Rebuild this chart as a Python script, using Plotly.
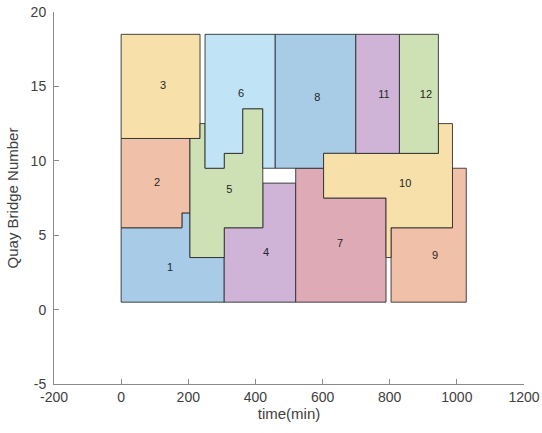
import plotly.graph_objects as go

# Block ids and polygon outlines (time in min, quay bridge number)
block_ids = [1, 2, 3, 4, 5, 6, 7, 8, 9, 10, 11, 12]
block_t = [
    [0, 307, 307, 205, 205, 181, 181, 0],
    [0, 181, 181, 205, 205, 0],
    [0, 235, 235, 0],
    [307, 520, 520, 422, 422, 307],
    [205, 307, 307, 422, 422, 362, 362, 307, 307, 250, 250, 235, 235, 205],
    [250, 459, 459, 422, 422, 362, 362, 307, 307, 250],
    [520, 789, 789, 603, 603, 520],
    [459, 699, 699, 603, 603, 459],
    [804, 1028, 1028, 987, 987, 804],
    [603, 699, 829, 945, 945, 987, 987, 804, 804, 789, 789, 603],
    [699, 829, 829, 699],
    [829, 945, 945, 829],
]
block_v = [
    [0.5, 0.5, 3.5, 3.5, 6.5, 6.5, 5.5, 5.5],
    [5.5, 5.5, 6.5, 6.5, 11.5, 11.5],
    [11.5, 11.5, 18.5, 18.5],
    [0.5, 0.5, 8.5, 8.5, 5.5, 5.5],
    [3.5, 3.5, 5.5, 5.5, 13.5, 13.5, 10.5, 10.5, 9.5, 9.5, 12.5, 12.5, 11.5, 11.5],
    [18.5, 18.5, 9.5, 9.5, 13.5, 13.5, 10.5, 10.5, 9.5, 9.5],
    [0.5, 0.5, 7.5, 7.5, 9.5, 9.5],
    [18.5, 18.5, 10.5, 10.5, 9.5, 9.5],
    [0.5, 0.5, 9.5, 9.5, 5.5, 5.5],
    [10.5, 10.5, 10.5, 10.5, 12.5, 12.5, 5.5, 5.5, 3.5, 3.5, 7.5, 7.5],
    [18.5, 18.5, 10.5, 10.5],
    [18.5, 18.5, 10.5, 10.5],
]
label_t = [146, 107, 125, 432, 322, 357, 652, 584, 935, 846, 783, 908]
label_v = [2.75, 8.5, 15.0, 3.8, 8.0, 14.5, 4.4, 14.2, 3.6, 8.4, 14.4, 14.4]

x_ticks = [-200, 0, 200, 400, 600, 800, 1000, 1200]
x_tick_labels = ["-200", "0", "200", "400", "600", "800", "1000", "1200"]
y_ticks = [-5, 0, 5, 10, 15, 20]
y_tick_labels = ["-5", "0", "5", "10", "15", "20"]

block_colors = [
    "rgb(168,204,232)", "rgb(241,192,168)", "rgb(247,224,170)", "rgb(207,180,216)",
    "rgb(206,225,180)", "rgb(192,227,245)", "rgb(222,170,182)", "rgb(168,204,230)",
    "rgb(241,192,168)", "rgb(247,224,170)", "rgb(207,180,216)", "rgb(206,225,180)",
]

fig = go.Figure()
for i, bid in enumerate(block_ids):
    fig.add_trace(go.Scatter(
        x=block_t[i] + [block_t[i][0]], y=block_v[i] + [block_v[i][0]],
        mode="lines", fill="toself", fillcolor=block_colors[i],
        line=dict(color="rgba(40,40,40,0.85)", width=1),
        hoverinfo="skip", showlegend=False,
    ))

fig.add_trace(go.Scatter(
    x=label_t, y=label_v, mode="text", text=[str(b) for b in block_ids],
    textfont=dict(family="Liberation Sans, Arial", size=11, color="#262626"),
    showlegend=False, hoverinfo="skip",
))

axis_common = dict(
    showgrid=False, zeroline=False, showline=True, linecolor="#8a8a8a", linewidth=1,
    ticks="inside", ticklen=5, tickcolor="#8a8a8a", mirror=False, automargin=False,
    tickfont=dict(family="Liberation Sans, Arial", size=14, color="#404040"),
)

fig.update_layout(
    width=542, height=433,
    margin=dict(l=54, r=18, t=12, b=49),
    plot_bgcolor="white", paper_bgcolor="white",
    xaxis=dict(range=[-200, 1200], tickmode="array", tickvals=x_ticks, ticktext=x_tick_labels,
               **axis_common, ticklabelstandoff=0,
               title=dict(text="time(min)", standoff=4,
                          font=dict(family="Liberation Sans, Arial", size=15, color="#404040"))),
    yaxis=dict(range=[-5, 20], tickmode="array", tickvals=y_ticks, ticktext=y_tick_labels,
               **axis_common, ticklabelstandoff=4,
               title=dict(text="Quay Bridge Number", standoff=8,
                          font=dict(family="Liberation Sans, Arial", size=15, color="#404040"))),
)

# remove the default page margin so the figure fills the window exactly
fig.write_html(
    "out.html",
    config={"displayModeBar": False},
    post_script="document.body.style.margin='0';document.body.style.overflow='hidden';",
)
